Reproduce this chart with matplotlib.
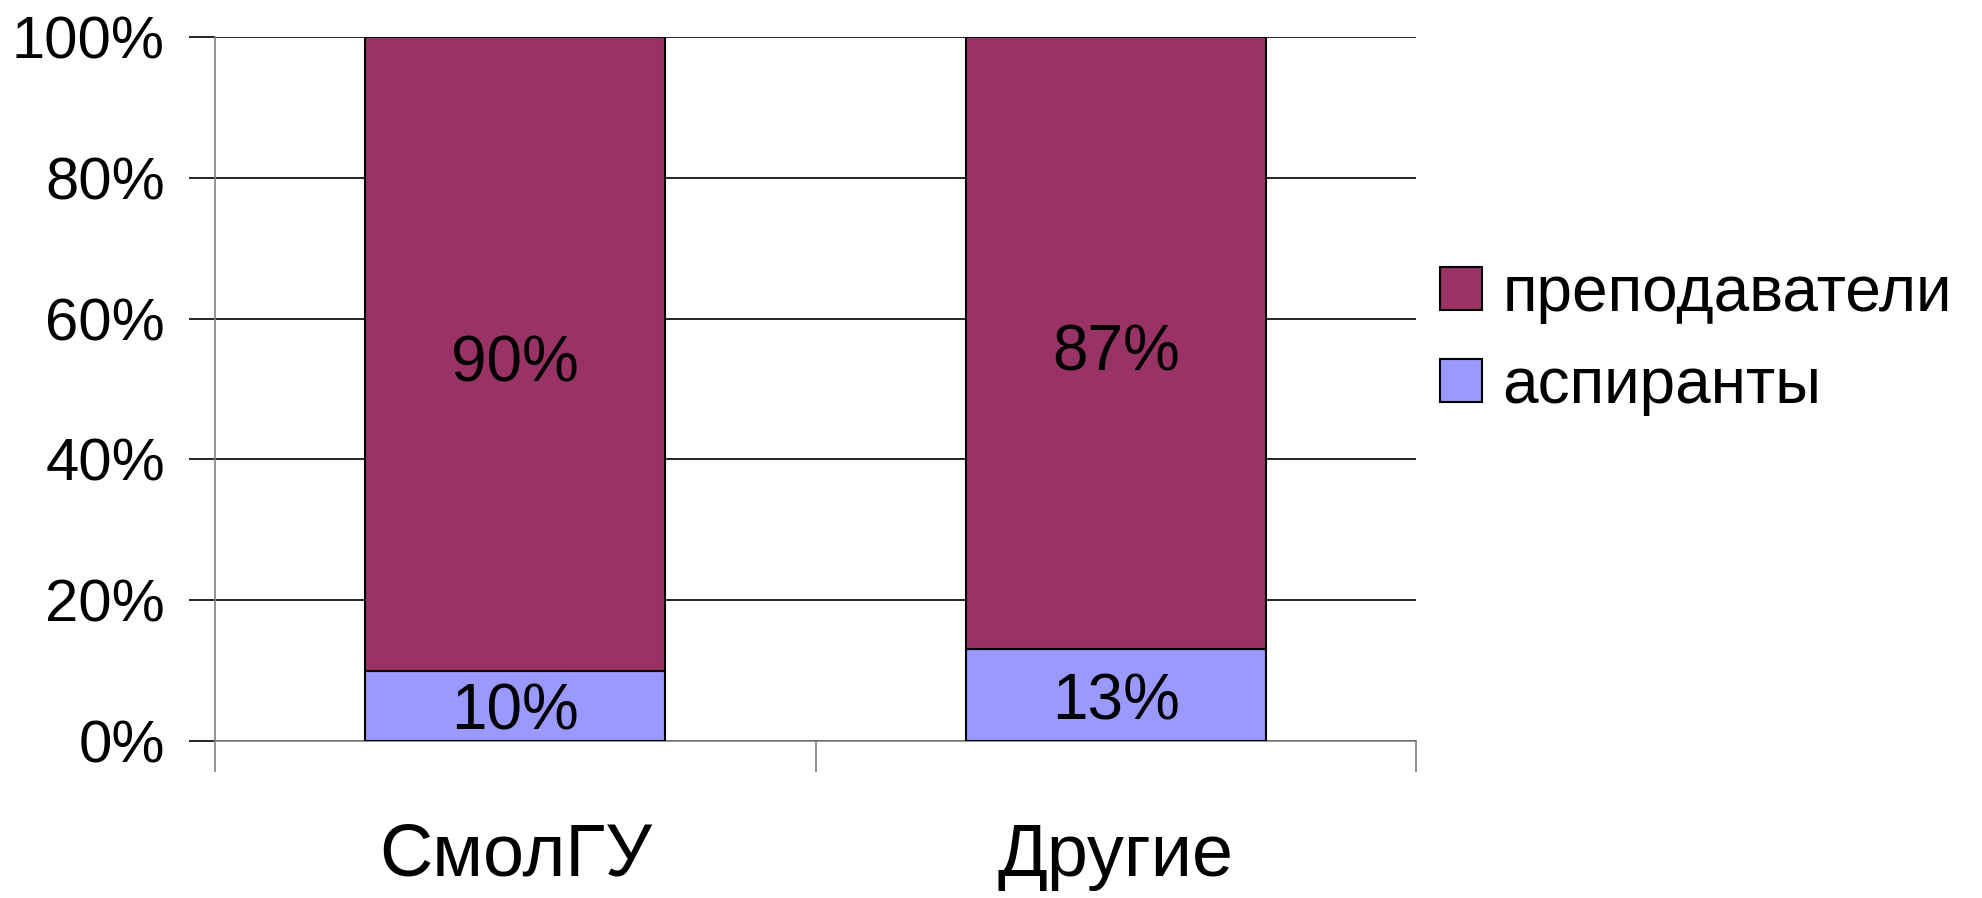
import matplotlib
matplotlib.use('Agg')
import matplotlib.pyplot as plt
from matplotlib.patches import Patch
import numpy as np

# data
categories = ['СмолГУ', 'Другие']
aspiranty = [10, 13]
prepodavateli = [90, 87]
series_names = ['преподаватели', 'аспиранты']

plt.rcParams['font.family'] = ['Liberation Sans', 'DejaVu Sans']

fig = plt.figure(figsize=(19.82, 8.98), dpi=100)
ax = fig.add_axes([215 / 1982, 157 / 898, 1201 / 1982, 704 / 898])

x = np.arange(len(categories))
c_prep = '#993366'
c_asp = '#9999FF'

b1 = ax.bar(x, aspiranty, width=0.5, color=c_asp, edgecolor='black', linewidth=1.5, zorder=3)
b2 = ax.bar(x, prepodavateli, width=0.5, bottom=aspiranty, color=c_prep,
            edgecolor='black', linewidth=1.5, zorder=3)

# value labels inside the segments
for i in range(len(categories)):
    ax.text(x[i], aspiranty[i] / 2 - 1, f'{aspiranty[i]}%', ha='center', va='center',
            fontsize=46, zorder=4)
    ax.text(x[i], aspiranty[i] + prepodavateli[i] / 2 - 1.5, f'{prepodavateli[i]}%',
            ha='center', va='center', fontsize=46, zorder=4)

ax.set_xlim(-0.5, 1.5)
ax.set_ylim(0, 100)
ax.set_yticks(np.arange(0, 101, 20))
ax.set_yticklabels([f'{v}%' for v in range(0, 101, 20)], fontsize=43)
ax.yaxis.grid(True, color='black', linewidth=1.2, zorder=0)

ax.set_xticks(x)
ax.set_xticklabels(categories, fontsize=53)
ax.set_xticks([-0.5, 0.5, 1.5], minor=True)
ax.tick_params(axis='x', which='major', length=0, pad=58)
ax.tick_params(axis='x', which='minor', length=22, width=1.2, color='#808080')
ax.tick_params(axis='y', length=19, width=1.2, color='black', pad=17)

for s in ['top', 'right']:
    ax.spines[s].set_visible(False)
ax.spines['left'].set_color('#808080')
ax.spines['bottom'].set_color('#808080')
ax.spines['left'].set_linewidth(1.2)
ax.spines['bottom'].set_linewidth(1.2)

handles = [Patch(facecolor=c_prep, edgecolor='black', linewidth=1.5),
           Patch(facecolor=c_asp, edgecolor='black', linewidth=1.5)]
fig.legend(handles, series_names, loc='center left', bbox_to_anchor=(1440 / 1982, 1 - 340 / 898),
           frameon=False, fontsize=46, handlelength=0.65, handleheight=0.65,
           handletextpad=0.33, labelspacing=0.5, borderaxespad=0, borderpad=0)

fig.savefig('out.png', dpi=100)
